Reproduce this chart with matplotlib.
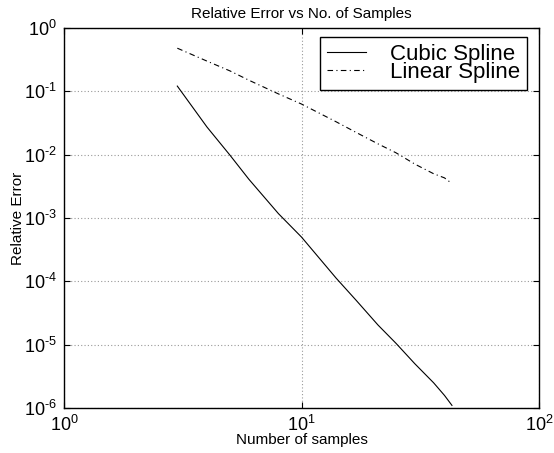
import matplotlib
matplotlib.use("Agg")
import numpy as np
import matplotlib.pyplot as plt
from matplotlib.ticker import LogLocator, NullLocator, FuncFormatter
from matplotlib import font_manager
from matplotlib.ft2font import FT2Font

plt.rcParams['font.family'] = ['Liberation Sans', 'DejaVu Sans']
plt.rcParams['mathtext.fontset'] = 'custom'
plt.rcParams['mathtext.rm'] = 'Liberation Sans'
plt.rcParams['mathtext.it'] = 'Liberation Sans:italic'
plt.rcParams['mathtext.default'] = 'regular'

# Data
samples = [3, 4, 5, 6, 8, 10, 14, 17, 21, 25, 30, 36, 40, 43]
cubic_err = [0.121, 0.0273, 0.0098, 0.0041, 0.00117, 5.0e-4, 1.12e-4,
             5.0e-5, 2.04e-5, 1.05e-5, 5.0e-6, 2.5e-6, 1.58e-6, 1.1e-6]
linear_err = [0.48, 0.30, 0.21, 0.15, 0.091, 0.063, 0.033, 0.0224,
              0.0148, 0.0107, 0.0071, 0.0050, 0.0043, 0.0035]
labels = ["Cubic Spline", "Linear Spline"]
title = "Relative Error vs No. of Samples"
xlabel = "Number of samples"
ylabel = "Relative Error"

# short hyphen for exponents (like the reference), if the font has it
hyph = '\u2212'
try:
    f = FT2Font(font_manager.findfont('Liberation Sans'))
    if f.get_char_index(0x2010):
        hyph = '\u2010'
except Exception:
    pass


def fmt(v, pos):
    e = int(round(np.log10(v)))
    s = str(abs(e))
    if e < 0:
        s = hyph + s
    return r"$10^{%s}$" % s


fig = plt.figure(figsize=(5.54, 4.53), dpi=100)
L, R, T, B = 64 / 554, 539 / 554, 1 - 28 / 453, 1 - 408 / 453
ax = fig.add_axes([L, B, R - L, T - B])

ax.loglog(samples, cubic_err, color='black', lw=0.8, ls='-', label=labels[0])
ax.loglog(samples, linear_err, color='black', lw=0.8, ls=(0, (5, 3, 1, 3)),
          label=labels[1])

ax.set_xlim(1, 100)
ax.set_ylim(1e-6, 1)
ax.xaxis.set_major_locator(LogLocator(base=10, numticks=10))
ax.yaxis.set_major_locator(LogLocator(base=10, numticks=10))
ax.xaxis.set_minor_locator(NullLocator())
ax.yaxis.set_minor_locator(NullLocator())
ax.xaxis.set_major_formatter(FuncFormatter(fmt))
ax.yaxis.set_major_formatter(FuncFormatter(fmt))

ax.grid(True, which='major', color='#999999', ls=(0, (1, 2)), lw=0.8)
ax.tick_params(direction='in', length=4, width=0.8, top=True, right=True,
               labelsize=13)
ax.tick_params(axis='x', pad=5)
ax.tick_params(axis='y', pad=5)
for s in ax.spines.values():
    s.set_linewidth(1.0)

ax.set_title(title, fontsize=11, pad=7)
ax.set_xlabel(xlabel, fontsize=11)
ax.set_ylabel(ylabel, fontsize=11)
ax.xaxis.set_label_coords(0.5, (408 - 433) / 380)
ax.yaxis.set_label_coords((25 - 64) / 475, 0.5)

leg = ax.legend(loc='upper right', bbox_to_anchor=(527 / 554, 1 - 37 / 453),
                bbox_transform=fig.transFigure, borderaxespad=0,
                fontsize=16, labelspacing=-0.12, handlelength=1.75,
                handletextpad=1.1, borderpad=0.3, fancybox=False,
                edgecolor='black', framealpha=1)
leg.get_frame().set_linewidth(1.0)

fig.savefig("out.png", dpi=100)
